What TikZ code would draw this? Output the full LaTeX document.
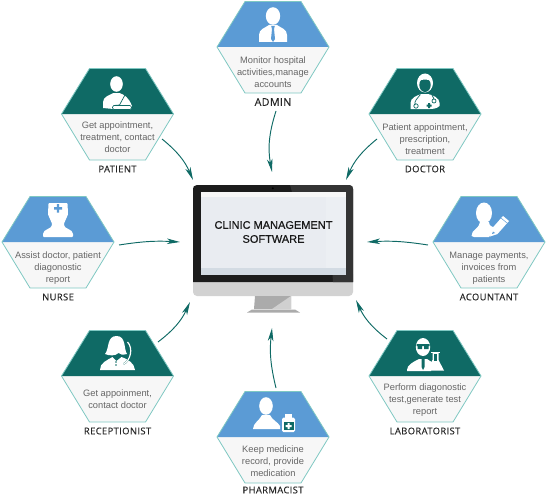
\documentclass[tikz,border=0pt]{standalone}
\usepackage{fontspec}
\setmainfont{Liberation Sans}
\newfontfamily\labfont[LetterSpace=4,FakeBold=0.3]{Open Sans}
\newfontfamily\monfont[FakeBold=0.7]{Liberation Sans}
\usetikzlibrary{arrows.meta}
\definecolor{tealc}{HTML}{0F6A65}
\definecolor{bluec}{HTML}{5B9BD5}
\definecolor{edgec}{HTML}{7FC8C2}
\definecolor{panelc}{HTML}{F7F7F7}
\definecolor{bodyc}{HTML}{666666}
\definecolor{screenc}{HTML}{E9ECF1}
\definecolor{screenr}{HTML}{ECEFF3}
\definecolor{barc}{HTML}{D3DBE3}
\definecolor{bezelc}{HTML}{1C1C1C}
\definecolor{glarec}{HTML}{343434}
\definecolor{chinc}{HTML}{D2D2D2}
\definecolor{standc}{HTML}{ABABAB}
\definecolor{standl}{HTML}{D0D0D0}
\tikzset{
  x=1pt,y=-1pt,
  desc/.style={font=\fontsize{9.3}{12}\selectfont,text=bodyc,align=center,inner sep=0pt},
  role/.style={font=\labfont\fontsize{9.4}{11}\selectfont,text=black!85,inner sep=0pt},
  flow/.style={draw=tealc,line width=.95pt,-{Stealth[length=13pt,width=5.5pt,inset=3.5pt]}},
  ic/.style={fill=white,draw=none},
  icd/.style={fill=hexc,draw=none},
  icl/.style={draw=hexc,line width=.7pt,fill=none},
}
\def\roledy{55}
% #1 name, #2 cx, #3 cy, #4 colour, #5 text dy, #6 text, #7 role, #8 icon
\newcommand{\hexa}[8]{%
  \colorlet{hexc}{#4}%
  \begin{scope}[shift={(#2,#3)}]
    \fill[panelc] (-56,0) -- (56,0) -- (28,46) -- (-28,46) -- cycle;
    \fill[#4] (-56,0) -- (-28,-45.5) -- (28,-45.5) -- (56,0) -- cycle;
    \draw[edgec,line width=.8pt,line join=round] (-56,0) -- (-28,-45.5) -- (28,-45.5) -- (56,0) -- (28,46) -- (-28,46) -- cycle;
    #8
    \node[desc] (#1) at (0,#5) {#6};
    \node[role] (#1-role) at (0,\roledy) {#7};
  \end{scope}}
\begin{document}
\begin{tikzpicture}
\useasboundingbox (0,0) rectangle (546,495);
% monitor
\fill[chinc,rounded corners=4pt] (193,270) rectangle (353,296);
\fill[bezelc] (197,185) -- (349,185) .. controls (352,185) and (353,187) .. (353,189) -- (353,282) -- (193,282) -- (193,189) .. controls (193,187) and (194,185) .. (197,185) -- cycle;
\fill[standc] (255,296) -- (291,296) -- (291,309) -- (254,309) -- cycle;
\fill[standl] (291,296) -- (291,309) -- (272,309) -- cycle;
\fill[standc] (247,312.5) -- (252,309.5) -- (295,309.5) -- (300,312.5) -- cycle;
\fill[glarec] (290,185) -- (349,185) .. controls (352,185) and (353,187) .. (353,189) -- (353,282) -- (333,282) -- (327,192) -- (292,192) -- cycle;
\fill[black] (272.8,188.3) circle[radius=1.1];
\fill[white!97!black] (201,192) rectangle (346,197);
\fill[screenc] (201,197) rectangle (346,268);
\fill[screenr] (326,197) rectangle (346,268);
\fill[barc] (201,268) rectangle (346,275);
\node[font=\monfont\fontsize{11}{14}\selectfont,text=black!90,align=center,inner sep=0pt] (software) at (273.5,232) {CLINIC MANAGEMENT\\SOFTWARE};
% admin
\hexa{admin}{273}{47}{bluec}{25}{Monitor hospital\\activities,manage\\accounts}{\fontsize{10.6}{12}\selectfont ADMIN}{
  \fill[ic] (0,-31) ellipse[x radius=7.2,y radius=8.8];
  \fill[ic] (-14,-5) -- (-14,-12) .. controls (-14,-18) and (-8,-19) .. (-4,-22) -- (4,-22) .. controls (8,-19) and (14,-18) .. (14,-12) -- (14,-5) -- cycle;
  \fill[icd] (-1.8,-21) -- (1.8,-21) -- (1,-18) -- (2,-8) -- (0,-5) -- (-2,-8) -- (-1,-18) -- cycle;
}
% patient
\hexa{patient}{117.5}{114}{tealc}{23}{Get appointment,\\treatment, contact\\doctor}{PATIENT}{
  \fill[ic] (-1,-30) ellipse[x radius=6.3,y radius=7.8];
  \fill[ic] (-14.5,-6) -- (-14.5,-12) .. controls (-14.5,-17) and (-8,-19) .. (-4,-21) -- (2,-21) .. controls (7,-19) and (11,-17) .. (14.5,-8) -- (13,-5) -- (-4,-5) -- cycle;
  \draw[icl,fill=white,rounded corners=1.5pt] (-5,-8.5) -- (14,-8.5) -- (14,-4.5) -- (-5,-4.5) -- cycle;
  \draw[icl] (-4,-8.5) -- (2,-9) (8,-20) -- (2,-9);
}
% doctor
\hexa{doctor}{425}{114}{tealc}{25}{Patient appointment,\\prescription,\\treatment}{DOCTOR}{
  \fill[ic] (-14.5,-5) -- (-14.5,-11) .. controls (-14.5,-16) and (-8,-19) .. (-3,-20) -- (3,-20) .. controls (8,-19) and (14.5,-16) .. (14.5,-11) -- (14.5,-8) .. controls (12,-5.5) and (8,-5) .. (5,-5) -- cycle;
  \fill[ic] (0,-31) ellipse[x radius=8,y radius=9.5];
  \fill[icd] (0,-29) ellipse[x radius=5.7,y radius=7];
  \fill[ic] (-6,-33) .. controls (-3,-35) and (3,-35) .. (6,-33) -- (6,-37) -- (-6,-37) -- cycle;
  \draw[icl] (-5,-19) .. controls (-8,-15) and (-11,-13) .. (-10,-9) (-9,-8) circle[radius=2.2];
  \draw[icl] (7,-19) -- (9,-15) (9,-13) circle[radius=2];
  \fill[icd] (3,-11) rectangle (5,-6) (1.5,-9.5) rectangle (6.5,-7.5);
}
% nurse
\hexa{nurse}{58}{242}{bluec}{26}{Assist doctor, patient\\diagonostic\\report}{NURSE}{
  \fill[ic,rounded corners=1pt] (-9.5,-39) -- (9.5,-39) -- (10,-28) .. controls (9,-24) and (7,-22) .. (6,-18) .. controls (6,-13) and (15,-13) .. (15,-7) -- (15,-5) -- (-15,-5) -- (-15,-7) .. controls (-15,-13) and (-6,-13) .. (-6,-18) .. controls (-7,-22) and (-9,-24) .. (-10,-28) -- cycle;
  \fill[icd] (-1.2,-38) rectangle (1.2,-29.5) (-4,-35) rectangle (4,-32.5);
}
% accountant
\hexa{accountant}{489}{242}{bluec}{26}{Manage payments,\\invoices from\\patients}{ACOUNTANT}{
  \fill[ic] (-5,-29) ellipse[x radius=8,y radius=10.5];
  \fill[ic] (-17.5,-6) .. controls (-18,-12) and (-9,-14) .. (-9,-20) -- (0,-20) .. controls (0,-16) and (3,-15) .. (7,-14) -- (-0,-5) -- (-15,-5) -- cycle;
  \fill[ic] (1,-5.5) -- (2.5,-13) -- (14,-26) -- (20,-21) -- (8.5,-8) -- cycle;
  \fill[icd] (3,-8) -- (4,-10.5) -- (6,-9) -- cycle;
  \draw[icl,line width=.5pt] (12,-24) -- (18,-19);
}
% receptionist
\hexa{receptionist}{117.5}{376}{tealc}{23}{Get appoinment,\\contact doctor}{RECEPTIONIST}{
  \fill[ic] (-12.5,-22) .. controls (-8,-27) and (-11,-40) .. (-1,-40) .. controls (9,-40) and (6,-27) .. (9.5,-22) .. controls (5,-21) and (3,-21) .. (1,-23) .. controls (-2,-20) and (-8,-20) .. (-12.5,-22) -- cycle;
  \fill[ic] (-17.5,-6) .. controls (-18,-13) and (-10,-16) .. (-5,-19) -- (-1,-15) -- (4,-19) .. controls (10,-17) and (17,-13) .. (17.5,-6) -- cycle;
  \draw[hexc,line width=1.6pt] (10,-34) .. controls (16,-28) and (13,-15) .. (6,-12);
  \draw[white,line width=1.2pt] (10,-34) .. controls (16,-28) and (13,-15) .. (6,-12);
  \fill[icd] (-1.5,-14) circle[radius=.9] (-1.5,-11) circle[radius=.9];
}
% laboratorist
\hexa{laboratorist}{425}{376}{tealc}{24}{Perform diagonostic\\test,generate test\\report}{LABORATORIST}{
  \fill[ic] (-2,-29) ellipse[x radius=7.2,y radius=9];
  \fill[ic] (-18,-6) .. controls (-18,-11) and (-12,-14) .. (-6,-17) -- (2,-17) .. controls (5,-15) and (7,-14) .. (8,-13) -- (6,-5) -- (-18,-5) -- cycle;
  \fill[icd] (-8.5,-32) rectangle (4.5,-30) (-7.5,-31) rectangle (-3,-27) (-1,-31) rectangle (3.5,-27);
  \fill[icd] (-3.5,-17) -- (-.5,-17) -- (-.5,-9) -- (-2,-6) -- (-3.5,-9) -- cycle;
  \fill[ic] (6,-24.5) rectangle (15,-23);
  \fill[ic] (7.5,-23) -- (13.5,-23) -- (13.5,-16) -- (19,-5.5) -- (2,-5.5) -- (7.5,-16) -- cycle;
  \fill[icd] (9,-22) rectangle (12,-15);
}
% pharmacist
\def\roledy{53}
\hexa{pharmacist}{273}{437}{bluec}{24}{Keep medicine\\record, provide\\medication}{PHARMACIST}{
  \fill[ic] (-7,-31) ellipse[x radius=6.8,y radius=8.8];
  \fill[ic] (-20,-8) .. controls (-20,-14) and (-13,-17) .. (-11,-22) -- (-3,-22) .. controls (-1,-17) and (5,-15) .. (7,-11) -- (7,-8) -- cycle;
  \fill[bluec,rounded corners=1.5pt] (8,-19) rectangle (23,-4);
  \fill[ic] (12,-23) rectangle (19,-19);
  \fill[ic,rounded corners=1.5pt] (9,-19.5) rectangle (22,-5);
  \fill[tealc] (10.5,-15) rectangle (20.5,-7);
  \fill[ic] (14.5,-14) rectangle (16.5,-8) (12.5,-12) rectangle (18.5,-10);
}
% connectors
\coordinate (admin-out) at (276,111);        \coordinate (admin-in) at (272,172);
\coordinate (patient-out) at (162,139);      \coordinate (patient-in) at (193,180);
\coordinate (doctor-out) at (377,139);       \coordinate (doctor-in) at (346,180);
\coordinate (nurse-out) at (119,245);        \coordinate (nurse-in) at (180,242);
\coordinate (accountant-out) at (428,245);   \coordinate (accountant-in) at (367,242);
\coordinate (receptionist-out) at (158,342); \coordinate (receptionist-in) at (190,302);
\coordinate (laboratorist-out) at (387,339); \coordinate (laboratorist-in) at (356,300);
\coordinate (pharmacist-out) at (276,388);   \coordinate (pharmacist-in) at (272,328);
\draw[flow] (admin-out) to[bend right=14] (admin-in);
\draw[flow] (patient-out) to[bend left=14] (patient-in);
\draw[flow] (doctor-out) to[bend right=14] (doctor-in);
\draw[flow] (nurse-out) to[bend left=6] (nurse-in);
\draw[flow] (accountant-out) to[bend right=6] (accountant-in);
\draw[flow] (receptionist-out) to[bend right=14] (receptionist-in);
\draw[flow] (laboratorist-out) to[bend left=14] (laboratorist-in);
\draw[flow] (pharmacist-out) to[bend left=10] (pharmacist-in);
\end{tikzpicture}
\end{document}
